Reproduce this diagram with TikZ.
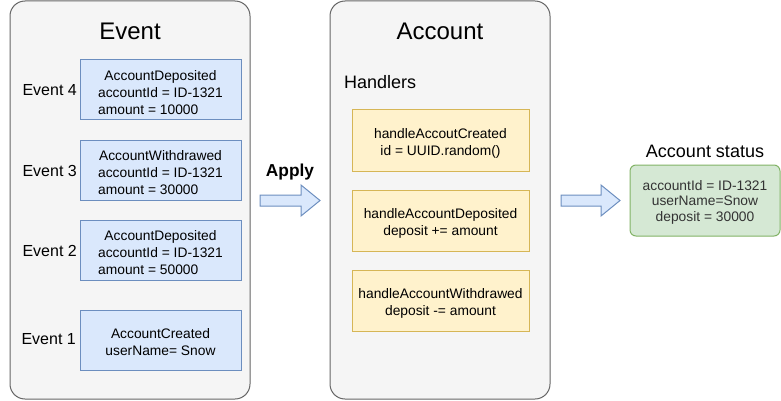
\documentclass[tikz,border=0pt]{standalone}
\usepackage{fontspec}
\setmainfont{Liberation Sans}
\definecolor{contfill}{HTML}{F5F5F5}
\definecolor{contline}{HTML}{666666}
\definecolor{bluefill}{HTML}{DAE8FC}
\definecolor{blueline}{HTML}{6C8EBF}
\definecolor{yelfill}{HTML}{FFF2CC}
\definecolor{yelline}{HTML}{D6B656}
\definecolor{grnfill}{HTML}{D5E8D4}
\definecolor{grnline}{HTML}{82B366}
\definecolor{grntext}{HTML}{333333}
\newcommand{\myboxfont}{\fontsize{13.8}{17}\selectfont}
\newcommand{\mygrnfont}{\fontsize{13.8}{15.5}\selectfont}
\newcommand{\mydown}[2]{\raisebox{-#1}[\height][\depth]{#2}}
\begin{document}
\begin{tikzpicture}[x=1pt,y=-1pt,
  container/.style={draw=contline,fill=contfill,line width=1pt,rounded corners=15pt,inner sep=0pt},
  eventbox/.style={draw=blueline,fill=bluefill,line width=1pt,minimum width=161pt,minimum height=60pt,inner sep=0pt,font=\myboxfont},
  handlerbox/.style={draw=yelline,fill=yelfill,line width=1pt,minimum width=177pt,minimum height=61pt,inner sep=0pt,font=\myboxfont},
  statusbox/.style={draw=grnline,fill=grnfill,line width=1pt,rounded corners=6pt,minimum width=150pt,minimum height=71pt,inner sep=0pt,font=\mygrnfont,text=grntext},
  evlabel/.style={anchor=east,inner sep=0pt,font=\fontsize{16}{19}\selectfont},
  bigtitle/.style={inner sep=0pt,font=\fontsize{24}{28}\selectfont},
  subtitle/.style={inner sep=0pt,font=\fontsize{18}{21}\selectfont},
  blockarrow/.style={draw=blueline,fill=bluefill,line width=1pt,line join=miter}
]
\useasboundingbox (0,0) rectangle (781,401);

% containers
\node[container,minimum width=240pt,minimum height=398pt] (evcont) at (130,200) {};
\node[container,minimum width=220pt,minimum height=398pt] (accont) at (440,200) {};

% titles
\node[bigtitle] (evtitle) at (130,31) {Event};
\node[bigtitle] (actitle) at (440,31) {Account};
\node[subtitle,anchor=west] (handlers) at (344,82) {Handlers};
\node[subtitle] (status) at (705,151) {Account status};
\node[inner sep=0pt,font=\fontsize{17.3}{20}\selectfont\bfseries] (apply) at (290,172) {Apply};

% event boxes
\node[eventbox] (ev4) at (160.5,90) {\mydown{4.5pt}{\begin{tabular}{@{}l@{}}\multicolumn{1}{@{}c@{}}{AccountDeposited}\\ accountId = ID-1321\\ amount = 10000\end{tabular}}};
\node[eventbox] (ev3) at (160.5,170) {\mydown{4.5pt}{\begin{tabular}{@{}l@{}}\multicolumn{1}{@{}c@{}}{AccountWithdrawed}\\ accountId = ID-1321\\ amount = 30000\end{tabular}}};
\node[eventbox] (ev2) at (160.5,250) {\mydown{4.5pt}{\begin{tabular}{@{}l@{}}\multicolumn{1}{@{}c@{}}{AccountDeposited}\\ accountId = ID-1321\\ amount = 50000\end{tabular}}};
\node[eventbox] (ev1) at (160.5,340) {\mydown{3.5pt}{\begin{tabular}{@{}c@{}}AccountCreated\\ userName= Snow\end{tabular}}};

% event labels
\node[evlabel] (l4) at (77,90.5) {Event 4};
\node[evlabel] (l3) at (77,170.5) {Event 3};
\node[evlabel] (l2) at (77,250.5) {Event 2};
\node[evlabel] (l1) at (76,339.5) {Event 1};

% handler boxes
\node[handlerbox] (h1) at (440.5,140.5) {\mydown{3pt}{\begin{tabular}{@{}c@{}}handleAccoutCreated\\ id = UUID.random()\end{tabular}}};
\node[handlerbox] (h2) at (440.5,220.5) {\mydown{3pt}{\begin{tabular}{@{}c@{}}handleAccountDeposited\\ deposit += amount\end{tabular}}};
\node[handlerbox] (h3) at (440.5,300.5) {\mydown{3pt}{\begin{tabular}{@{}c@{}}handleAccountWithdrawed\\ deposit -= amount\end{tabular}}};

% status box
\node[statusbox] (st) at (705,200.5) {\mydown{2pt}{\begin{tabular}{@{}c@{}}accountId = ID-1321\\ userName=Snow\\ deposit = 30000\end{tabular}}};

% block arrows
\draw[blockarrow] (260,195) -- (301,195) -- (301,185) -- (320,200.5) -- (301,216) -- (301,206) -- (260,206) -- cycle;
\draw[blockarrow] (561,195) -- (601,195) -- (601,185) -- (620,200.5) -- (601,216) -- (601,206) -- (561,206) -- cycle;
\end{tikzpicture}
\end{document}
